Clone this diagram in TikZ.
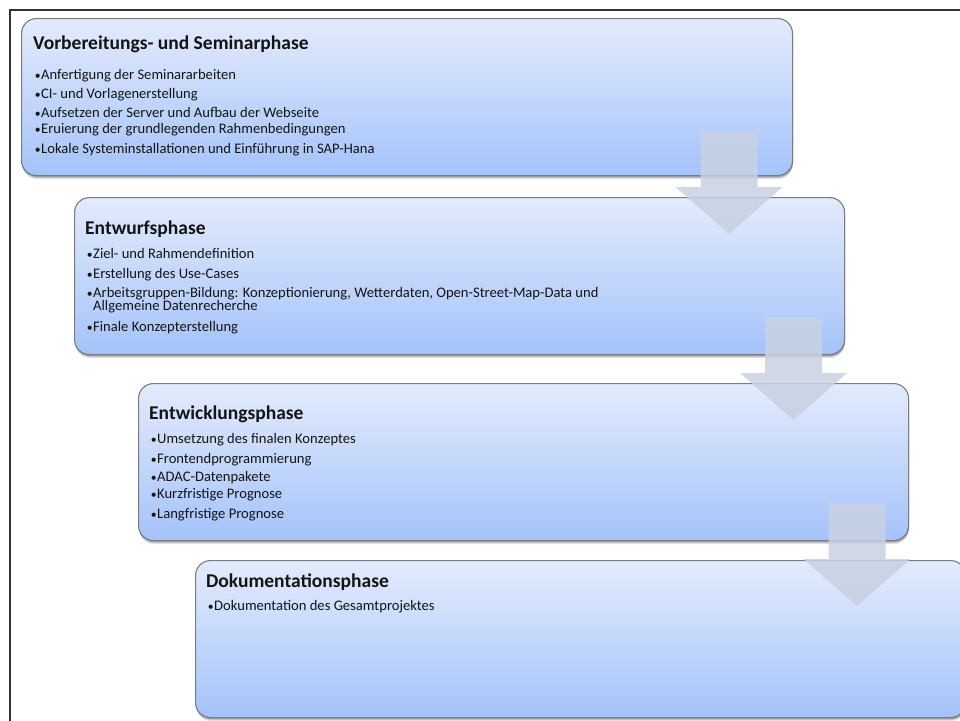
\documentclass[tikz,border=0pt]{standalone}
\usepackage{fontspec}
\setmainfont{Carlito}
\usetikzlibrary{positioning}
\definecolor{boxtop}{RGB}{227,235,252}
\definecolor{boxbot}{RGB}{164,195,250}
\definecolor{boxline}{RGB}{120,124,132}
\definecolor{flowarrow}{RGB}{200,209,226}
\definecolor{frameline}{RGB}{51,51,51}
\definecolor{ink}{RGB}{20,20,20}
\tikzset{
  phasebox/.style={rectangle, rounded corners=15pt, draw=boxline, line width=1.1pt,
    top color=boxtop, bottom color=boxbot, anchor=north west, inner sep=0pt},
  phasetitle/.style={anchor=base west, inner sep=0pt, font=\fontsize{19.5}{22}\selectfont\bfseries, text=ink},
  phaseitem/.style={anchor=base west, inner sep=0pt, font=\fontsize{14.6}{16}\selectfont, text=ink},
  flowarrowstyle/.style={fill=flowarrow, fill opacity=0.85, draw=none},
}
% one phase box with a soft shadow underneath
\newcommand{\phasebox}[5]{% name, x, y, width, height
  \foreach \o/\a in {4/0.10,3/0.14,2/0.18}{
    \fill[black, opacity=\a, rounded corners=15pt] (#2+1,#3+\o) rectangle ++(#4,#5);
  }
  \node[phasebox, minimum width=#4pt, minimum height=#5pt] (#1) at (#2,#3) {};
}
% block arrow: centre x, top y
\newcommand{\flowarrow}[2]{%
  \path[flowarrowstyle] (#1-28.5,#2) -- (#1+28.5,#2) -- (#1+28.5,#2+56) -- (#1+53.5,#2+56)
    -- (#1,#2+103) -- (#1-53.5,#2+56) -- (#1-28.5,#2+56) -- cycle;
}
% list bullet in a fixed-width slot
\newcommand{\bul}{\hbox to 7pt{\hss\scalebox{0.8}{\textbullet}\hss}}
\begin{document}
\begin{tikzpicture}[x=1pt,y=-1pt]
\useasboundingbox (0,0) rectangle (960,720);
\fill[white] (0,0) rectangle (960,720);
\begin{scope}
\clip (0,0) rectangle (960,720);
% outer frame
\draw[frameline, line width=2pt] (10,725) -- (10,10) -- (965,10);

% phase boxes
\phasebox{p1}{21}{18}{771}{157}
\phasebox{p2}{74}{197}{770}{157}
\phasebox{p3}{138}{383}{770}{157}
\phasebox{p4}{195}{560}{770}{157}

% phase 1
\node[phasetitle] (t1) at ([shift={(12,31)}]p1.north west) {Vorbereitungs- und Seminarphase};
\node[phaseitem] (i11) at ([shift={(13,61)}]p1.north west) {\bul Anfertigung der Seminararbeiten};
\node[phaseitem] (i12) at ([shift={(13,80)}]p1.north west) {\bul CI- und Vorlagenerstellung};
\node[phaseitem] (i13) at ([shift={(13,99)}]p1.north west) {\bul Aufsetzen der Server und Aufbau der Webseite};
\node[phaseitem] (i14) at ([shift={(13,115)}]p1.north west) {\bul Eruierung der grundlegenden Rahmenbedingungen};
\node[phaseitem] (i15) at ([shift={(13,135)}]p1.north west) {\bul Lokale Systeminstallationen und Einführung in SAP-Hana};

% phase 2
\node[phasetitle] (t2) at ([shift={(11,37)}]p2.north west) {Entwurfsphase};
\node[phaseitem] (i21) at ([shift={(12,61)}]p2.north west) {\bul Ziel- und Rahmendefinition};
\node[phaseitem] (i22) at ([shift={(12,81)}]p2.north west) {\bul Erstellung des Use-Cases};
\node[phaseitem] (i23) at ([shift={(12,100)}]p2.north west) {\bul Arbeitsgruppen-Bildung: Konzeptionierung, Wetterdaten, Open-Street-Map-Data und};
\node[phaseitem] (i23b) at ([shift={(19,113)}]p2.north west) {Allgemeine Datenrecherche};
\node[phaseitem] (i24) at ([shift={(12,134)}]p2.north west) {\bul Finale Konzepterstellung};

% phase 3
\node[phasetitle] (t3) at ([shift={(11,36)}]p3.north west) {Entwicklungsphase};
\node[phaseitem] (i31) at ([shift={(12,60)}]p3.north west) {\bul Umsetzung des finalen Konzeptes};
\node[phaseitem] (i32) at ([shift={(12,80)}]p3.north west) {\bul Frontendprogrammierung};
\node[phaseitem] (i33) at ([shift={(12,98)}]p3.north west) {\bul ADAC-Datenpakete};
\node[phaseitem] (i34) at ([shift={(12,115)}]p3.north west) {\bul Kurzfristige Prognose};
\node[phaseitem] (i35) at ([shift={(12,135)}]p3.north west) {\bul Langfristige Prognose};

% phase 4
\node[phasetitle] (t4) at ([shift={(11,27)}]p4.north west) {Dokumentationsphase};
\node[phaseitem] (i41) at ([shift={(12,50)}]p4.north west) {\bul Dokumentation des Gesamtprojektes};

% transition arrows between the phases
\flowarrow{729}{131}
\flowarrow{793.5}{317}
\flowarrow{857}{503}
\end{scope}
\end{tikzpicture}
\end{document}
